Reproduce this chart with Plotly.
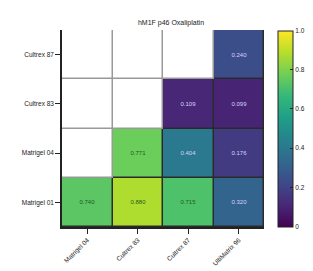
import plotly.graph_objects as go

cols = ["Matrigel 04", "Cultrex 83", "Cultrex 87", "UltiMatrix 96"]
rows = ["Matrigel 01", "Matrigel 04", "Cultrex 83", "Cultrex 87"]
vals = [
    [0.740, 0.880, 0.715, 0.320],
    [None, 0.771, 0.404, 0.176],
    [None, None, 0.109, 0.099],
    [None, None, None, 0.240],
]
title = "hM1F p46 Oxaliplatin"
threshold = 0.6

hi = [[v if (v is not None and v >= threshold) else None for v in r] for r in vals]
lo = [[v if (v is not None and v < threshold) else None for v in r] for r in vals]
empty = [[0 if v is None else None for v in r] for r in vals]
filled = [[None if v is None else 0 for v in r] for r in vals]

font = "Liberation Sans, Arial, sans-serif"
gap = 1.5
fig = go.Figure()
fig.add_trace(go.Heatmap(x=cols, y=rows, z=empty, colorscale=[[0, "white"], [1, "white"]],
                         showscale=False, xgap=gap, ygap=gap, hoverinfo="skip"))
fig.add_trace(go.Heatmap(x=cols, y=rows, z=filled, colorscale=[[0, "#2a2a2a"], [1, "#2a2a2a"]],
                         showscale=False, hoverinfo="skip"))
fig.add_trace(go.Heatmap(x=cols, y=rows, z=lo, colorscale="Viridis", zmin=0, zmax=1,
                         xgap=gap, ygap=gap, texttemplate="%{z:.3f}",
                         textfont=dict(size=6, color="#d8d0ff", family=font),
                         showscale=False))
fig.add_trace(go.Heatmap(x=cols, y=rows, z=hi, colorscale="Viridis", zmin=0, zmax=1,
                         xgap=gap, ygap=gap, texttemplate="%{z:.3f}",
                         textfont=dict(size=6, color="#1d5a1d", family=font),
                         colorbar=dict(x=1.07, xanchor="left", thickness=15, len=0.995,
                                       xpad=0, ypad=0,
                                       y=0.5, yanchor="middle", outlinecolor="#222",
                                       outlinewidth=1, tickvals=[0, 0.2, 0.4, 0.6, 0.8, 1.0],
                                       ticktext=["0", "0.2", "0.4", "0.6", "0.8", "1.0"],
                                       ticks="inside", ticklen=3, tickcolor="#222",
                                       tickfont=dict(size=6.5, color="#222", family=font))))

fig.update_layout(
    width=313, height=271,
    margin=dict(l=54, r=45, t=22, b=36),
    paper_bgcolor="white", plot_bgcolor="#999",
    title=dict(text=title, x=163 / 313, xanchor="center", y=1 - 15 / 271, yanchor="middle",
               font=dict(size=7, color="#222", family=font)),
    font=dict(family=font, size=6.5, color="#222"),
)
fig.update_xaxes(showline=True, linecolor="#222", linewidth=1.5, ticks="outside", ticklen=5,
                 tickwidth=1.2, tickcolor="#222", tickangle=-45, showgrid=False,
                 tickfont=dict(size=6.5, color="#222"))
fig.update_yaxes(showline=True, linecolor="#222", linewidth=1.5, ticks="outside", ticklen=5,
                 tickwidth=1.2, tickcolor="#222", showgrid=False,
                 tickfont=dict(size=6.5, color="#222"))

fig.write_html("out.html")
